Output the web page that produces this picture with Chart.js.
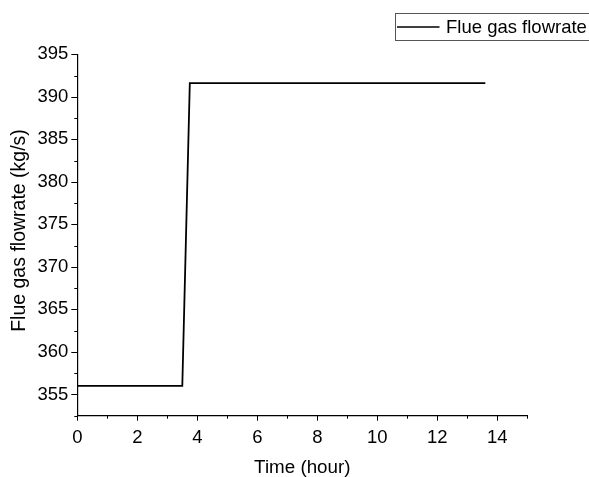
<!DOCTYPE html>
<html>
<head>
<meta charset="utf-8">
<style>
html,body{margin:0;padding:0;background:#fff;}
#wrap{width:589px;height:477px;position:relative;}
canvas{display:block;}
</style>
<script src="https://cdn.jsdelivr.net/npm/chart.js@4/dist/chart.umd.min.js"></script>
</head>
<body>
<div id="wrap"><canvas id="c" width="589" height="477"></canvas></div>
<script>
// ---- data ----
const timeHours = [0, 3.5, 3.75, 13.6];
const flueGasFlowrate = [356, 356, 391.6, 391.6];
const xTickValues = [0, 2, 4, 6, 8, 10, 12, 14];
const xMinorTickValues = [1, 3, 5, 7, 9, 11, 13, 15];
const yTickValues = [355, 360, 365, 370, 375, 380, 385, 390, 395];
const yMinorTickValues = [352.5, 357.5, 362.5, 367.5, 372.5, 377.5, 382.5, 387.5, 392.5];
const seriesLabel = 'Flue gas flowrate';
const xTitle = 'Time (hour)';
const yTitle = 'Flue gas flowrate (kg/s)';
const xRange = [0, 15];
const yRange = [352.5, 395];

const FONT = '"Liberation Sans", Arial, sans-serif';
const FS_TICK = 18.5;
const FS_LEG = 18.5;
const FS_XT = 18.8;
const FS_YT = 19.5;

const decor = {
  id: 'decor',
  afterDraw(chart) {
    const ctx = chart.ctx, xs = chart.scales.x, ys = chart.scales.y, ca = chart.chartArea;
    ctx.save();
    ctx.strokeStyle = '#000';
    ctx.lineWidth = 1;
    ctx.beginPath();
    xTickValues.forEach(v => { const p = Math.round(xs.getPixelForValue(v)) + 0.5; ctx.moveTo(p, ca.bottom); ctx.lineTo(p, ca.bottom + 5); });
    xMinorTickValues.forEach(v => { const p = Math.round(xs.getPixelForValue(v)) + 0.5; ctx.moveTo(p, ca.bottom); ctx.lineTo(p, ca.bottom + 3); });
    yTickValues.forEach(v => { const p = Math.round(ys.getPixelForValue(v)) + 0.5; ctx.moveTo(ca.left, p); ctx.lineTo(ca.left - 6, p); });
    yMinorTickValues.forEach(v => { const p = Math.round(ys.getPixelForValue(v)) + 0.5; ctx.moveTo(ca.left, p); ctx.lineTo(ca.left - 3, p); });
    ctx.stroke();

    // axis titles
    ctx.fillStyle = '#000';
    ctx.font = FS_XT + 'px ' + FONT;
    ctx.textAlign = 'center';
    ctx.textBaseline = 'alphabetic';
    ctx.fillText(xTitle, (ca.left + ca.right) / 2, 473);
    ctx.save();
    ctx.font = FS_YT + 'px ' + FONT;
    ctx.translate(20, 230.5);
    ctx.rotate(-Math.PI / 2);
    ctx.textBaseline = 'middle';
    ctx.fillText(yTitle, 0, 0);
    ctx.restore();

    // legend
    ctx.strokeStyle = '#555';
    ctx.lineWidth = 1;
    ctx.strokeRect(395.5, 13.5, 220, 27);
    ctx.strokeStyle = '#000';
    ctx.lineWidth = 1.6;
    ctx.beginPath();
    ctx.moveTo(397, 27);
    ctx.lineTo(439.5, 27);
    ctx.stroke();
    ctx.font = FS_LEG + 'px ' + FONT;
    ctx.textAlign = 'left';
    ctx.textBaseline = 'middle';
    ctx.fillText(seriesLabel, 446, 27.5);
    ctx.restore();
  }
};

new Chart(document.getElementById('c'), {
  type: 'line',
  data: {
    datasets: [{
      label: seriesLabel,
      data: timeHours.map((t, i) => ({ x: t, y: flueGasFlowrate[i] })),
      borderColor: '#000',
      borderWidth: 1.8,
      pointRadius: 0,
      tension: 0,
      fill: false
    }]
  },
  options: {
    responsive: false,
    animation: false,
    devicePixelRatio: 1,
    layout: { padding: { top: 54.3, right: 61.7, bottom: 0, left: 0 } },
    plugins: { legend: { display: false }, tooltip: { enabled: false } },
    scales: {
      x: {
        type: 'linear',
        min: xRange[0], max: xRange[1],
        afterBuildTicks(s) { s.ticks = xTickValues.map(v => ({ value: v })); },
        afterFit(s) { s.height = 61.3; },
        grid: { display: false, drawTicks: true, tickLength: 5 },
        border: { display: true, color: '#000', width: 1.2 },
        ticks: { padding: 6, color: '#000', font: { family: FONT, size: FS_TICK }, maxRotation: 0, autoSkip: false }
      },
      y: {
        type: 'linear',
        min: yRange[0], max: yRange[1],
        afterBuildTicks(s) { s.ticks = yTickValues.map(v => ({ value: v })); },
        afterFit(s) { s.width = 77.3; },
        grid: { display: false, drawTicks: true, tickLength: 6 },
        border: { display: true, color: '#000', width: 1.2 },
        ticks: { padding: 3, color: '#000', font: { family: FONT, size: FS_TICK }, autoSkip: false }
      }
    }
  },
  plugins: [decor]
});
</script>
</body>
</html>
